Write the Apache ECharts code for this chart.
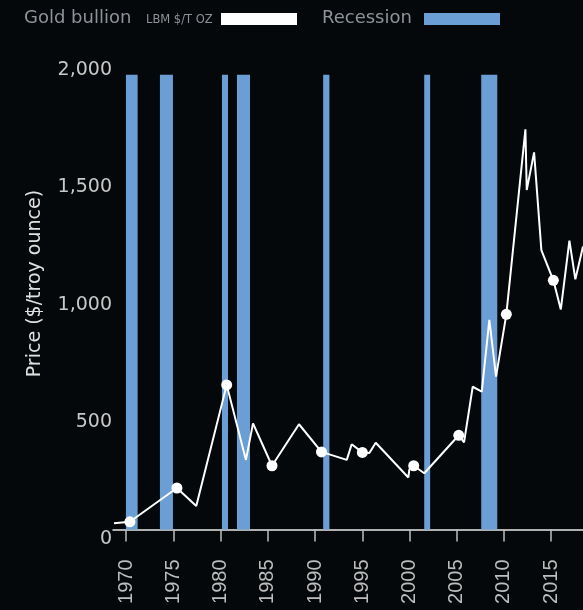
<!DOCTYPE html>
<html>
<head>
<meta charset="utf-8">
<script src="https://cdn.jsdelivr.net/npm/echarts@6/dist/echarts.min.js"></script>
<style>
html,body{margin:0;padding:0;background:#05080a;}
#chart{width:583px;height:610px;}
</style>
</head>
<body>
<div id="chart"></div>
<script>
// Gold price line (decimal year, $/troy ounce)
const lineYears = [1968.70, 1970.39, 1975.37, 1977.42, 1980.64, 1982.68, 1983.43, 1985.44, 1988.30, 1990.68,
  1993.36, 1993.88, 1995.01, 1995.75, 1996.43, 1999.88, 1999.99, 2000.45, 2001.57, 2005.22,
  2005.78, 2006.70, 2007.66, 2008.46, 2009.17, 2010.26, 2012.28, 2012.42, 2013.20, 2013.97,
  2015.24, 2016.03, 2016.94, 2017.57, 2018.38];
const linePrices = [27, 33, 177, 100, 617, 297, 453, 272, 449, 331,
  297, 364, 329, 326, 370, 222, 256, 272, 240, 402,
  372, 609, 588, 894, 652, 918, 1707, 1448, 1609, 1192,
  1063, 939, 1232, 1067, 1207];
// Highlighted points (every five years)
const dotYears = [1970.39, 1975.37, 1980.64, 1985.44, 1990.68, 1995.01, 2000.45, 2005.22, 2010.26, 2015.24];
const dotPrices = [33, 177, 617, 272, 331, 329, 272, 402, 918, 1063];
// Recession periods (start, end)
const recessionStart = [1969.97, 1973.57, 1980.14, 1981.73, 1990.86, 2001.56, 2007.60];
const recessionEnd   = [1971.21, 1974.95, 1980.78, 1983.11, 1991.52, 2002.19, 2009.30];
const recessionTop = 1940;
// Tick labels
const xTicks = [1970, 1975, 1980, 1985, 1990, 1995, 2000, 2005, 2010, 2015];
const yTicks = [0, 500, 1000, 1500, 2000];

const lineData = lineYears.map((y, i) => [y, linePrices[i]]);
const dotData = dotYears.map((y, i) => [y, dotPrices[i]]);
const recData = recessionStart.map((s, i) => [s, recessionEnd[i], recessionTop]);

const chart = echarts.init(document.getElementById('chart'), null, {renderer: 'canvas'});
const FONT = 'DejaVu Sans';
chart.setOption({
  backgroundColor: '#05080a',
  animation: false,
  grid: {left: 113, right: 0, top: 60.7, bottom: 80.5, containLabel: false},
  graphic: [
    {type: 'text', left: 24, top: 9, style: {text: 'Gold bullion', fill: '#8e9398', font: '18px "DejaVu Sans"'}},
    {type: 'text', left: 146, top: 14, style: {text: 'LBM $/T OZ', fill: '#8e9398', font: '11.5px "DejaVu Sans"'}},
    {type: 'rect', shape: {x: 221, y: 13, width: 76, height: 12}, style: {fill: '#ffffff'}},
    {type: 'text', left: 322, top: 9, style: {text: 'Recession', fill: '#8e9398', font: '18px "DejaVu Sans"'}},
    {type: 'rect', shape: {x: 424, y: 13, width: 76, height: 12}, style: {fill: '#6a9ed5'}}
  ],
  xAxis: {
    type: 'value', min: 1968.6, max: 2018.38,
    axisLine: {show: true, lineStyle: {color: '#e8e8e8', width: 1.5}},
    axisTick: {show: true, length: 12, customValues: xTicks, lineStyle: {color: '#bdbdbd', width: 1.5}},
    axisLabel: {customValues: xTicks, rotate: 90, margin: 30, color: '#bdbdbd',
      fontFamily: 'Liberation Sans', fontSize: 20, formatter: v => String(v)},
    splitLine: {show: false}
  },
  yAxis: {
    type: 'value', min: yTicks[0], max: yTicks[yTicks.length - 1], interval: 500,
    name: 'Price ($/troy ounce)', nameLocation: 'middle', nameRotate: 90, nameGap: 68,
    nameTextStyle: {color: '#e0e0e0', fontFamily: FONT, fontSize: 19, padding: [0, 0, 0, 23]},
    axisLine: {show: false}, axisTick: {show: false}, splitLine: {show: false},
    axisLabel: {color: '#c8c8c8', fontFamily: FONT, fontSize: 19, margin: 1, verticalAlign: 'top',
      formatter: v => v.toLocaleString('en-US')}
  },
  series: [
    {
      type: 'custom', name: 'Recession', data: recData, z: 1,
      encode: {x: [0, 1], y: 2},
      renderItem: (params, api) => {
        const p0 = api.coord([api.value(0), 0]);
        const p1 = api.coord([api.value(1), api.value(2)]);
        return {type: 'rect', shape: {x: p0[0], y: p1[1], width: p1[0] - p0[0], height: p0[1] - p1[1]},
          style: {fill: '#6a9ed5'}};
      }
    },
    {
      type: 'line', name: 'Gold bullion', data: lineData, z: 3,
      showSymbol: false, symbol: 'none',
      lineStyle: {color: '#ffffff', width: 2}
    },
    {
      type: 'scatter', data: dotData, z: 4, symbolSize: 11,
      itemStyle: {color: '#ffffff', opacity: 1}
    }
  ]
});
</script>
</body>
</html>
